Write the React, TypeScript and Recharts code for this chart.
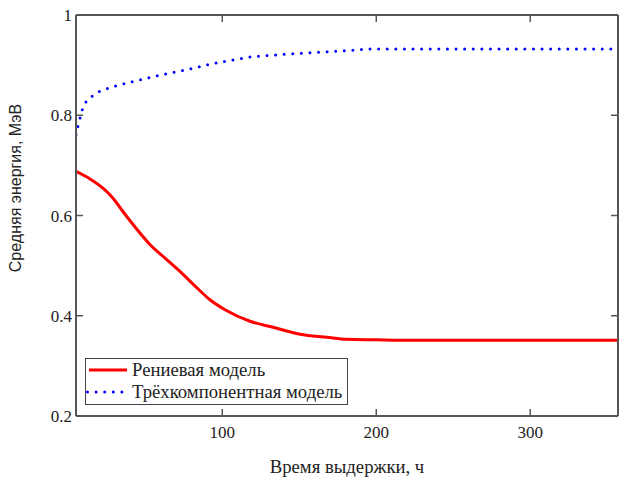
import React from 'react';
import { LineChart, Line, XAxis, YAxis, Legend, Label } from 'recharts';

const reniumX = [5, 14.1, 22.7, 29.2, 35.7, 44.4, 53, 63.9, 74.7, 83.4, 92, 101.8, 118, 133, 150.5, 168, 181, 200, 215, 357];
const reniumY = [0.688, 0.673, 0.654, 0.634, 0.607, 0.573, 0.542, 0.512, 0.482, 0.456, 0.432, 0.412, 0.389, 0.377, 0.363, 0.357, 0.353, 0.352, 0.351, 0.351];

const threeX = [5, 6.1, 7.6, 9.1, 11.5, 16.9, 22.3, 27.7, 33.1, 38.6, 44, 49.4, 54.8, 60.2, 65.6, 71, 76.4, 81.8, 87.7, 104, 120, 137, 152, 163.4, 180, 196, 213, 357];
const threeY = [0.761, 0.776, 0.794, 0.811, 0.827, 0.842, 0.851, 0.855, 0.861, 0.864, 0.869, 0.872, 0.877, 0.88, 0.884, 0.887, 0.891, 0.894, 0.899, 0.909, 0.917, 0.921, 0.924, 0.926, 0.929, 0.932, 0.932, 0.932];

const xTicks = [100, 200, 300];
const yTicks = [0.2, 0.4, 0.6, 0.8, 1];
const xDomain = [5, 357];
const yDomain = [0.2, 1];

const seriesNames = ['Рениевая модель', 'Трёхкомпонентная модель'];
const xTitle = 'Время выдержки, ч';
const yTitle = 'Средняя энергия, МэВ';

const reniumData = reniumX.map((x, i) => ({ x, y: reniumY[i] }));
const threeData = threeX.map((x, i) => ({ x, y: threeY[i] }));

const AXIS = '#555';
const SERIF = 'Liberation Serif, Times New Roman, serif';
const SANS = 'Liberation Sans, Arial, sans-serif';
const TL = 7;

const BottomTick = (p: any) => (
  <g>
    <line x1={p.x} x2={p.x} y1={p.y} y2={p.y - TL} stroke={AXIS} strokeWidth={1.5} />
    <text x={p.x} y={p.y + 22} textAnchor="middle" fontFamily={SERIF} fontSize={17} fill="#222">
      {p.payload.value}
    </text>
  </g>
);
const TopTick = (p: any) => (
  <line x1={p.x} x2={p.x} y1={p.y} y2={p.y + TL} stroke={AXIS} strokeWidth={1.5} />
);
const LeftTick = (p: any) => (
  <g>
    <line x1={p.x} x2={p.x + TL} y1={p.y} y2={p.y} stroke={AXIS} strokeWidth={1.5} />
    <text x={p.x - 4} y={p.y + 6} textAnchor="end" fontFamily={SERIF} fontSize={17} fill="#222">
      {String(p.payload.value)}
    </text>
  </g>
);
const RightTick = (p: any) => (
  <line x1={p.x} x2={p.x - TL} y1={p.y} y2={p.y} stroke={AXIS} strokeWidth={1.5} />
);

const renderLegend = () => (
  <div
    style={{
      border: '1.5px solid #444',
      background: '#fff',
      boxSizing: 'border-box',
      width: 263,
      height: 47,
      fontFamily: SERIF,
      fontSize: 18.7,
      lineHeight: '22px',
      color: '#222',
      padding: '0',
    }}
  >
    <div style={{ display: 'flex', alignItems: 'center', height: 22 }}>
      <svg width={46} height={10} style={{ flex: 'none' }}>
        <line x1={3} x2={41} y1={5} y2={5} stroke="#ff0000" strokeWidth={3} />
      </svg>
      <span>{seriesNames[0]}</span>
    </div>
    <div style={{ display: 'flex', alignItems: 'center', height: 22 }}>
      <svg width={46} height={10} style={{ flex: 'none' }}>
        <line x1={1.5} x2={41} y1={5} y2={5} stroke="#0000ff" strokeWidth={3} strokeDasharray="0 8.6" strokeLinecap="round" />
      </svg>
      <span>{seriesNames[1]}</span>
    </div>
  </div>
);

export default function App() {
  return (
    <div style={{ position: 'absolute', left: 0, top: 0, background: '#fff' }}>
      <LineChart width={619} height={477} margin={{ top: 14, right: 0, bottom: 60, left: 75 }}>
        <XAxis
          xAxisId="b"
          type="number"
          dataKey="x"
          domain={xDomain}
          ticks={xTicks}
          allowDataOverflow
          height={1}
          tickSize={0}
          tickMargin={0}
          tickLine={false}
          tick={<BottomTick />}
          axisLine={{ stroke: AXIS, strokeWidth: 2 }}
        >
          <Label
            content={() => (
              <text x={347} y={473} textAnchor="middle" fontFamily={SERIF} fontSize={18.7} fill="#222">
                {xTitle}
              </text>
            )}
          />
        </XAxis>
        <XAxis
          xAxisId="t"
          orientation="top"
          type="number"
          dataKey="x"
          domain={xDomain}
          ticks={xTicks}
          allowDataOverflow
          height={1}
          tickSize={0}
          tickMargin={0}
          tickLine={false}
          tick={<TopTick />}
          axisLine={{ stroke: AXIS, strokeWidth: 2 }}
        />
        <YAxis
          yAxisId="l"
          type="number"
          domain={yDomain}
          ticks={yTicks}
          allowDataOverflow
          width={1}
          tickSize={0}
          tickMargin={0}
          tickLine={false}
          tick={<LeftTick />}
          axisLine={{ stroke: AXIS, strokeWidth: 2 }}
        >
          <Label
            content={() => (
              <text
                x={15}
                y={188}
                transform="rotate(-90 15 188)"
                textAnchor="middle"
                dominantBaseline="central"
                fontFamily={SANS}
                fontSize={16}
                fill="#222"
              >
                {yTitle}
              </text>
            )}
          />
        </YAxis>
        <YAxis
          yAxisId="r"
          orientation="right"
          type="number"
          domain={yDomain}
          ticks={yTicks}
          allowDataOverflow
          width={1}
          tickSize={0}
          tickMargin={0}
          tickLine={false}
          tick={<RightTick />}
          axisLine={{ stroke: AXIS, strokeWidth: 2 }}
        />
        <Line
          xAxisId="b"
          yAxisId="l"
          data={reniumData}
          dataKey="y"
          type="monotone"
          stroke="#ff0000"
          strokeWidth={3}
          dot={false}
          isAnimationActive={false}
        />
        <Line
          xAxisId="b"
          yAxisId="l"
          data={threeData}
          dataKey="y"
          type="linear"
          stroke="#0000ff"
          strokeWidth={3}
          strokeDasharray="0 8.6"
          strokeLinecap="round"
          dot={false}
          isAnimationActive={false}
        />
        <Legend
          layout="vertical"
          align="center"
          verticalAlign="middle"
          content={renderLegend}
          wrapperStyle={{ position: 'absolute', left: 85, top: 358, width: 263, height: 47 }}
        />
      </LineChart>
    </div>
  );
}
